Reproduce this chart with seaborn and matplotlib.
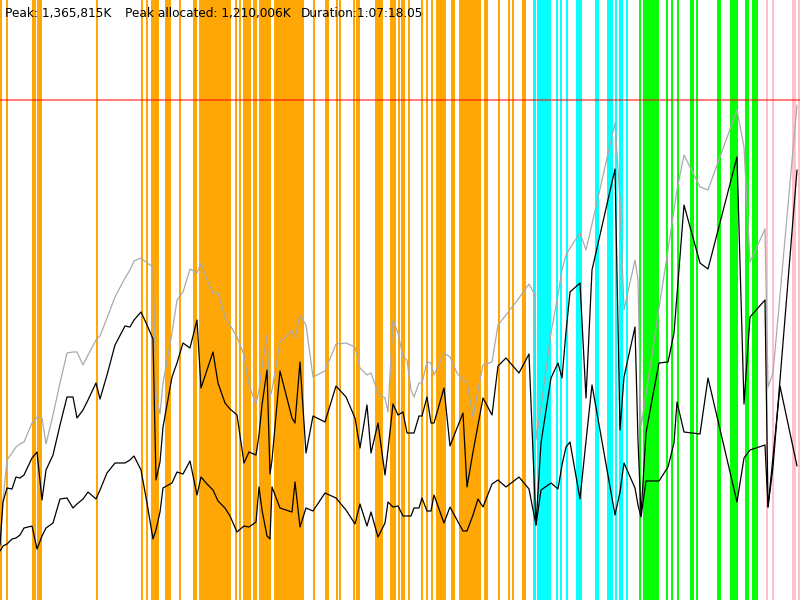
import matplotlib
matplotlib.use("Agg")
import matplotlib.pyplot as plt
import seaborn as sns

# GC log view: x = time (chart px), y = memory as drawn (px from top, peak line at 100)
t = [0, 3, 7, 12, 16, 20, 24, 32, 37, 42, 46, 53, 60, 67, 73, 77, 83, 88, 96, 100,
     107, 115, 125, 130, 134, 141, 147, 153, 156, 160, 163, 172, 177, 183, 190, 197,
     201, 207, 213, 218, 225, 230, 237, 244, 249, 256, 259, 262, 267, 270, 272, 280,
     292, 295, 300, 306, 313, 325, 336, 346, 355, 360, 367, 371, 378, 385, 388, 393,
     398, 403, 407, 411, 414, 419, 422, 427, 431, 434, 444, 450, 457, 463, 467, 473,
     478, 483, 492, 498, 506, 519, 529, 535, 536, 541, 551, 558, 562, 566, 570, 580,
     586, 592, 615, 620, 624, 635, 638, 641, 646, 652, 659, 668, 674, 677, 684, 700,
     708, 737, 744, 750, 765, 768, 773, 780, 797]

heap_total = [545, 500, 460, 453, 447, 444, 442, 423, 417, 418, 444, 415, 383, 353, 352, 352, 365, 355, 340, 336,
              318, 297, 278, 270, 261, 258, 263, 267, 395, 414, 383, 333, 300, 292, 269, 273,
              263, 280, 293, 293, 317, 325, 337, 355, 385, 404, 390, 367, 335, 397, 390, 342,
              331, 338, 315, 325, 377, 371, 344, 343, 347, 368, 375, 373, 393, 398, 412, 320,
              333, 357, 360, 390, 397, 383, 383, 362, 363, 375, 353, 357, 373, 380, 382, 417,
              390, 365, 362, 325, 315, 298, 284, 295, 440, 407, 333, 295, 270, 255, 248, 233,
              250, 224, 123, 200, 310, 260, 280, 427, 394, 355, 308, 250, 210, 190, 155, 187,
              190, 110, 147, 262, 229, 387, 373, 295, 105]

heap_used = [545, 502, 488, 489, 477, 478, 475, 458, 452, 500, 470, 455, 425, 397, 397, 418, 410, 400, 383, 399,
             375, 345, 326, 327, 320, 312, 325, 339, 480, 462, 427, 377, 363, 343, 348, 320,
             388, 370, 352, 383, 403, 409, 415, 463, 452, 455, 435, 405, 370, 474, 460, 371,
             418, 423, 362, 453, 416, 422, 386, 397, 418, 448, 405, 453, 423, 475, 450, 404,
             415, 412, 433, 433, 433, 416, 416, 397, 423, 423, 388, 446, 428, 413, 487, 452,
             425, 398, 415, 366, 358, 373, 354, 501, 525, 443, 378, 363, 378, 332, 292, 283,
             398, 270, 169, 430, 377, 327, 440, 515, 433, 400, 363, 362, 333, 295, 205, 263,
             269, 157, 404, 317, 300, 507, 467, 380, 170]

heap_live = [551, 546, 544, 539, 538, 535, 528, 526, 549, 536, 528, 523, 499, 498, 508, 504, 499, 492, 499, 490,
             473, 463, 463, 460, 456, 470, 503, 539, 530, 512, 488, 483, 472, 474, 461, 495,
             477, 484, 490, 501, 508, 516, 532, 526, 527, 522, 487, 510, 536, 539, 487, 508,
             512, 482, 527, 508, 511, 493, 498, 510, 524, 504, 526, 512, 537, 523, 502, 507,
             506, 516, 516, 516, 508, 508, 498, 511, 511, 495, 523, 507, 520, 531, 531, 515,
             499, 507, 484, 480, 487, 477, 489, 520, 525, 490, 483, 489, 465, 447, 442, 499,
             441, 385, 515, 492, 463, 488, 505, 517, 481, 481, 481, 467, 443, 402, 432, 434,
             378, 502, 458, 450, 445, 507, 457, 386, 466]

# event markers (vertical lines) by GC kind
orange_events = [1, 6.5, 33, 35, 38, 40, 41, 97, 142, 147, 152, 153.5, 156, 158, 166, 168, 170,
                 180, 194, 196, 200, 202, 204, 206, 208, 210, 212, 214, 216, 218, 220, 222, 224,
                 226, 228, 230, 236, 240, 244, 246, 248, 250, 254, 256, 260, 262, 264, 266, 268,
                 270, 275, 277, 279, 281, 283, 285, 287, 289, 291, 293, 295, 297, 299, 301, 303,
                 314, 326, 328, 337, 340, 354, 357, 359, 376, 378, 380, 382, 391, 393, 395, 399,
                 402, 404, 409, 422, 427, 432, 437, 439, 441, 443, 445, 452, 454, 460, 462, 464,
                 466, 468, 470, 472, 474, 476, 478, 480, 485, 487, 499, 509, 513, 523, 525]
cyan_events = [533.5, 535, 538, 540, 542, 544, 546, 548, 550, 557, 561, 567, 577, 579, 581,
               596, 598, 608, 610, 612, 616, 620, 622, 627]
green_events = [639.5, 644, 646, 648, 650, 652, 654, 656, 658, 667, 672, 678, 691, 693, 697,
                718, 720, 731, 733, 735, 737, 746, 748, 753, 755, 757]
pink_events = [767, 773, 793, 795, 799]

peak_level = 100
labels = ["Peak: 1,365,815K", "Peak allocated: 1,210,006K", "Duration:1:07:18.05"]
label_x = [5, 125, 301]

sns.set_style("white")

fig = plt.figure(figsize=(8, 6), dpi=100)
ax = fig.add_axes([0, 0, 1, 1])

ax.vlines(orange_events, 0, 600, colors="orange", lw=1.4, zorder=1)
ax.vlines(cyan_events, 0, 600, colors="cyan", lw=1.4, zorder=1)
ax.vlines(green_events, 0, 600, colors="lime", lw=1.4, zorder=1)
ax.vlines(pink_events, 0, 600, colors="pink", lw=1.4, zorder=1)

ax.axhline(peak_level, color="red", alpha=0.5, lw=1.5, zorder=2)

sns.lineplot(x=t, y=heap_total, color="#aaaaaa", lw=0.9, estimator=None, ax=ax, zorder=3)
sns.lineplot(x=t, y=heap_used, color="black", lw=0.9, estimator=None, ax=ax, zorder=4)
sns.lineplot(x=t, y=heap_live, color="black", lw=0.9, estimator=None, ax=ax, zorder=4)

for x, s in zip(label_x, labels):
    ax.text(x, 17, s, fontsize=8.7, color="black", va="baseline", ha="left", zorder=5)

ax.set_xlim(0, 800)
ax.set_ylim(600, 0)
ax.axis("off")

fig.savefig("out.png", dpi=100)
